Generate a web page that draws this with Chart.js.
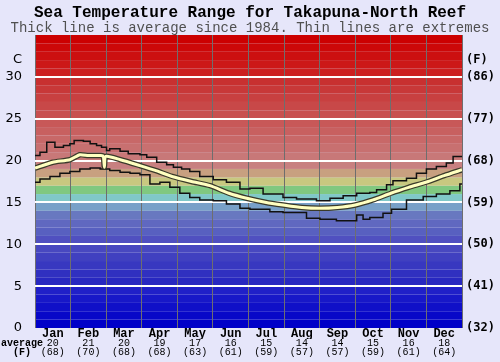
<!DOCTYPE html>
<html>
<head>
<meta charset="utf-8">
<script src="https://cdn.jsdelivr.net/npm/chart.js@4"></script>
<style>
  html, body { margin: 0; padding: 0; background: #e6e6fa; }
  #wrap { width: 500px; height: 362px; }
</style>
</head>
<body>
<div id="wrap"><canvas id="seaChart" width="500" height="362"></canvas></div>
<script>
const months = ['Jan', 'Feb', 'Mar', 'Apr', 'May', 'Jun', 'Jul', 'Aug', 'Sep', 'Oct', 'Nov', 'Dec'];
const avgC = [20, 21, 20, 19, 17, 16, 15, 14, 14, 15, 16, 18];
const avgF = [68, 70, 68, 68, 63, 61, 59, 57, 57, 59, 61, 64];

// x is in months (0 = start of Jan, 12 = end of Dec)
const maxX = [0, 0.14, 0.33, 0.56, 0.8, 0.98, 1.1, 1.36, 1.55, 1.73, 1.87, 2.01, 2.1, 2.39, 2.62, 2.95, 3.14, 3.42, 3.7, 3.89, 4.12, 4.35, 4.63, 5.01, 5.38, 5.76, 6.04, 6.41, 6.97, 7.35, 7.91, 8.29, 8.66, 9.04, 9.41, 9.6, 9.88, 10.06, 10.44, 10.72, 11.0, 11.28, 11.56, 11.75, 12];
const maxT = [20.6, 21.0, 22.2, 21.6, 21.8, 22.0, 22.4, 22.3, 22.0, 21.8, 21.6, 21.2, 21.4, 21.1, 20.8, 20.7, 20.4, 19.8, 19.5, 19.2, 19.0, 18.7, 18.1, 17.7, 17.4, 16.6, 16.7, 16.0, 15.6, 15.4, 15.2, 15.5, 15.8, 16.1, 16.2, 16.5, 17.1, 17.6, 17.9, 18.5, 19.0, 19.3, 19.7, 20.5, 20.5];

const minX = [0, 0.14, 0.42, 0.7, 0.98, 1.26, 1.55, 1.83, 2.1, 2.39, 2.67, 2.95, 3.23, 3.51, 3.79, 4.07, 4.35, 4.63, 5.01, 5.38, 5.76, 6.04, 6.6, 6.97, 7.63, 8.01, 8.47, 9.04, 9.22, 9.41, 9.78, 10.02, 10.44, 10.91, 11.28, 11.66, 11.94, 12];
const minT = [17.4, 17.8, 18.1, 18.5, 18.7, 19.0, 19.1, 19.0, 18.8, 18.6, 18.5, 18.3, 17.2, 17.4, 16.8, 16.1, 15.6, 15.3, 15.2, 14.8, 14.3, 14.2, 13.9, 13.8, 13.1, 13.0, 12.8, 13.5, 13.0, 13.2, 13.7, 14.2, 15.3, 15.7, 16.0, 16.4, 17.2, 17.2];

const avgX = [0, 0.5, 0.98, 1.26, 1.5, 1.85, 1.92, 1.95, 1.99, 2.4, 2.95, 3.4, 3.85, 4.4, 4.92, 5.45, 5.95, 6.5, 6.97, 7.5, 8.0, 8.5, 9.0, 9.5, 10.0, 10.5, 11.05, 11.5, 12];
const avgT = [19.1, 19.8, 20.1, 20.7, 20.6, 20.6, 20.5, 19.2, 20.5, 20.1, 19.4, 18.8, 18.1, 17.5, 17.0, 16.1, 15.5, 15.0, 14.7, 14.4, 14.3, 14.4, 14.7, 15.3, 16.1, 16.8, 17.5, 18.2, 18.9];

// one colour per 1 degree band, 0..35 C
const bandColors = [
  '#0000c8', '#0808c8', '#1010c8', '#1818c8', '#2020c8',
  '#2828c0', '#3030c0', '#3838c0', '#4040c0', '#4848c0',
  '#5050c0', '#5860c0', '#6068c0', '#6878c0', '#78a0c8',
  '#80c8c8', '#80c880', '#c8c880', '#c8a080', '#c88080',
  '#c87878', '#c87070', '#c86868', '#c86060', '#c85858',
  '#c85050', '#c84848', '#c84040', '#c83838', '#c83030',
  '#cc2020', '#cc1818', '#cc1010', '#cc0808', '#cc0000'
];

const toPoints = (xs, ys) => xs.map((x, i) => ({ x: x, y: ys[i] }));

const bandsPlugin = {
  id: 'bands',
  beforeDraw(chart) {
    const { ctx, chartArea, scales } = chart;
    const y = scales.y;
    ctx.save();
    bandColors.forEach((c, i) => {
      const top = y.getPixelForValue(i + 1);
      const bottom = y.getPixelForValue(i);
      ctx.fillStyle = c;
      ctx.fillRect(chartArea.left, top, chartArea.right - chartArea.left, bottom - top);
    });
    ctx.restore();
  },
  afterDraw(chart) {
    const { ctx, scales } = chart;
    const y = scales.y;
    ctx.save();
    ctx.fillStyle = '#000';
    ctx.textBaseline = 'middle';
    ctx.font = '13px "DejaVu Sans"';
    ctx.textAlign = 'right';
    ctx.fillText('C', 22, y.getPixelForValue(32));
    ctx.font = 'bold 12px "DejaVu Sans Mono"';
    ctx.textAlign = 'left';
    ctx.fillText('(F)', 466, y.getPixelForValue(32));
    ctx.font = 'bold 10px "Liberation Mono"';
    ctx.textAlign = 'center';
    ctx.fillText('average', 22, 343.5);
    ctx.fillText('(F)', 22, 352.5);
    ctx.restore();
  }
};

new Chart(document.getElementById('seaChart'), {
  type: 'line',
  data: {
    datasets: [
      {
        label: 'Max',
        data: toPoints(maxX, maxT),
        stepped: true,
        borderColor: '#111',
        borderWidth: 1.5,
        pointRadius: 0,
        xAxisID: 'xd'
      },
      {
        label: 'Min',
        data: toPoints(minX, minT),
        stepped: true,
        borderColor: '#111',
        borderWidth: 1.5,
        pointRadius: 0,
        xAxisID: 'xd'
      },
      {
        label: 'Average',
        data: toPoints(avgX, avgT),
        borderColor: '#ffffc0',
        borderWidth: 3,
        pointRadius: 0,
        tension: 0.2,
        xAxisID: 'xd',
        order: -2
      },
      {
        label: 'Average outline',
        data: toPoints(avgX, avgT),
        borderColor: '#3a3a2a',
        borderWidth: 5.5,
        pointRadius: 0,
        tension: 0.2,
        xAxisID: 'xd',
        order: -1
      }
    ]
  },
  options: {
    responsive: false,
    animation: false,
    layout: { padding: 0 },
    plugins: {
      legend: { display: false },
      tooltip: { enabled: false },
      title: {
        display: true,
        text: 'Sea Temperature Range for Takapuna-North Reef',
        color: '#000',
        font: { family: '"Liberation Mono"', size: 16, weight: 'bold', lineHeight: 1 },
        padding: { top: 5, bottom: 0 }
      },
      subtitle: {
        display: true,
        text: 'Thick line is average since 1984. Thin lines are extremes',
        color: '#505050',
        font: { family: '"Liberation Mono"', size: 14, lineHeight: 1 },
        padding: { top: 0, bottom: 0 }
      }
    },
    scales: {
      xd: {
        type: 'linear',
        min: 0,
        max: 12,
        display: false
      },
      x: {
        type: 'category',
        labels: months,
        position: 'bottom',
        offset: true,
        weight: 0,
        grid: { offset: true, color: '#6e6e6e', lineWidth: 1, drawTicks: false },
        border: { display: false },
        ticks: {
          color: '#000',
          padding: 0,
          maxRotation: 0,
          autoSkip: false,
          font: { family: '"Liberation Mono"', size: 12, weight: 'bold', lineHeight: 1 }
        },
        afterFit(scale) { scale.height = 11; }
      },
      x2: {
        type: 'category',
        labels: avgC.map((c, i) => [String(c), '(' + avgF[i] + ')']),
        position: 'bottom',
        offset: true,
        weight: 1,
        grid: { display: false, drawTicks: false },
        border: { display: false },
        ticks: {
          color: '#000',
          padding: 0,
          maxRotation: 0,
          autoSkip: false,
          font: { family: '"Liberation Mono"', size: 10, lineHeight: 0.9 }
        },
        afterFit(scale) { scale.height = 23; }
      },
      y: {
        position: 'left',
        min: 0,
        max: 35,
        grid: {
          color: (c) => (c.tick.value === 0 || c.tick.value === 35) ? 'rgba(0,0,0,0)' : '#ffffff',
          lineWidth: 2,
          drawTicks: false
        },
        border: { display: false },
        ticks: {
          stepSize: 5,
          padding: 13,
          color: '#000',
          font: { family: '"DejaVu Sans"', size: 13 },
          callback: (v) => v === 35 ? '' : v
        },
        afterFit(scale) { scale.width = 35; }
      },
      yF: {
        position: 'right',
        min: 0,
        max: 35,
        grid: { display: false, drawTicks: false },
        border: { display: false },
        ticks: {
          stepSize: 5,
          padding: 4,
          color: '#000',
          font: { family: '"DejaVu Sans Mono"', size: 12, weight: 'bold' },
          callback: (v) => v === 35 ? '' : '(' + Math.round(v * 9 / 5 + 32) + ')'
        },
        afterFit(scale) { scale.width = 38; }
      }
    }
  },
  plugins: [bandsPlugin]
});
</script>
</body>
</html>
